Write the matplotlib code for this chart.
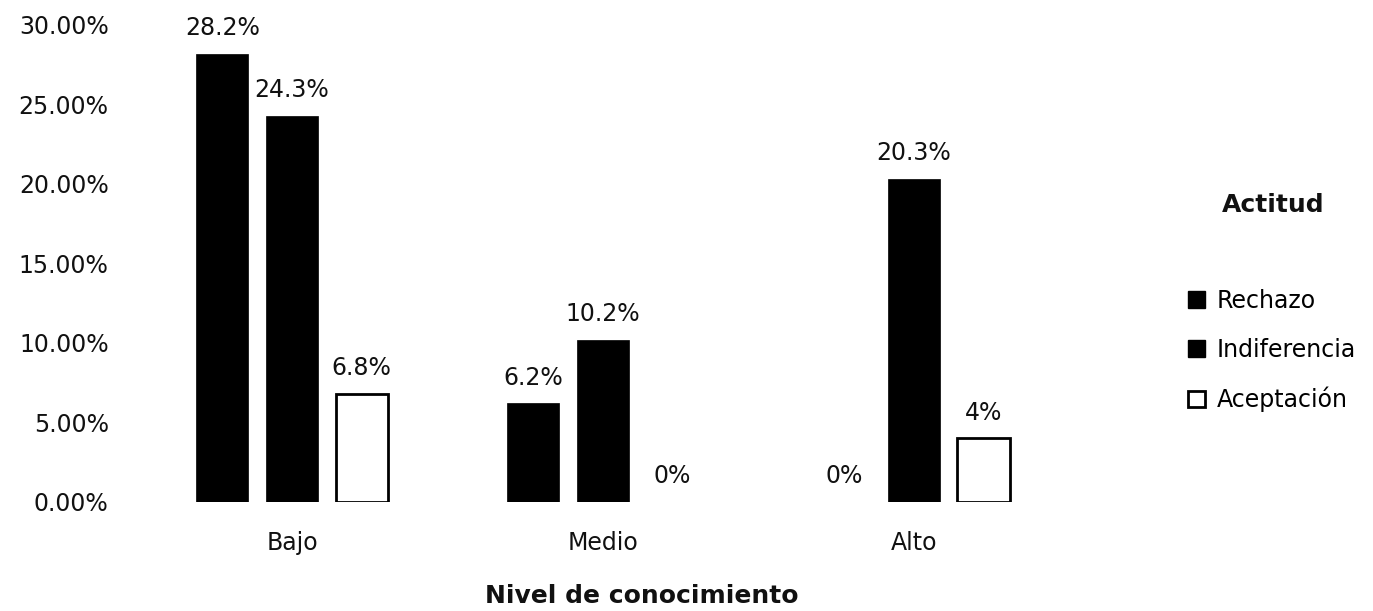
import numpy as np
import matplotlib
matplotlib.use("Agg")
import matplotlib.pyplot as plt
from matplotlib.patches import Patch

niveles = ["Bajo", "Medio", "Alto"]
actitudes = ["Rechazo", "Indiferencia", "Aceptación"]
rechazo = [28.2, 6.2, 0.0]
indiferencia = [24.3, 10.2, 20.3]
aceptacion = [6.8, 0.0, 4.0]
etiquetas = [["28.2%", "6.2%", "0%"],
             ["24.3%", "10.2%", "20.3%"],
             ["6.8%", "0%", "4%"]]
y_ticks = [0, 5, 10, 15, 20, 25, 30]

plt.rcParams['font.family'] = ['DejaVu Sans']

fig = plt.figure(figsize=(13.73, 6.11), dpi=100)
ax = fig.add_axes([0.0994, 0.1784, 0.6795, 0.7807])

x = np.arange(len(niveles))
offset = 0.224
width = 0.168
series = [rechazo, indiferencia, aceptacion]
faces = ["black", "black", "white"]

for i, (vals, fc) in enumerate(zip(series, faces)):
    bars = ax.bar(x + (i - 1) * offset, vals, width, color=fc,
                  edgecolor="black", linewidth=2 if fc == "white" else 0.5,
                  label=actitudes[i])
    # zero bars show nothing but the label
    for b, v in zip(bars, vals):
        if v == 0:
            b.set_visible(False)
    ax.bar_label(bars, labels=etiquetas[i], padding=10, fontsize=17,
                 color="#111111")

ax.set_xlim(-0.5, 2.5)
ax.set_ylim(0, 30)
ax.set_yticks(y_ticks)
ax.set_yticklabels(["{:.2f}%".format(v) for v in y_ticks], fontsize=17,
                   color="#111111")
ax.set_xticks(x)
ax.set_xticklabels(niveles, fontsize=17, color="#111111")
ax.tick_params(axis="y", length=0, pad=20)
ax.tick_params(axis="x", length=0, pad=21)
for s in ax.spines.values():
    s.set_visible(False)

fig.text(642 / 1373, 1 - 596 / 611, "Nivel de conocimiento", fontsize=18,
         fontweight="bold", ha="center", va="center", color="#111111")

fig.text(1273 / 1373, 1 - 205 / 611, "Actitud", fontsize=18,
         fontweight="bold", ha="center", va="center", color="#111111")

handles = [Patch(facecolor="black", edgecolor="black"),
           Patch(facecolor="black", edgecolor="black"),
           Patch(facecolor="white", edgecolor="black", linewidth=2)]
fig.legend(handles, actitudes, loc="upper left",
           bbox_to_anchor=(1188 / 1373, 1 - 289 / 611), frameon=False,
           fontsize=17, handlelength=0.7, handleheight=0.7,
           handletextpad=0.5, labelspacing=1.05, borderpad=0,
           borderaxespad=0)

fig.savefig("out.png", dpi=100)
